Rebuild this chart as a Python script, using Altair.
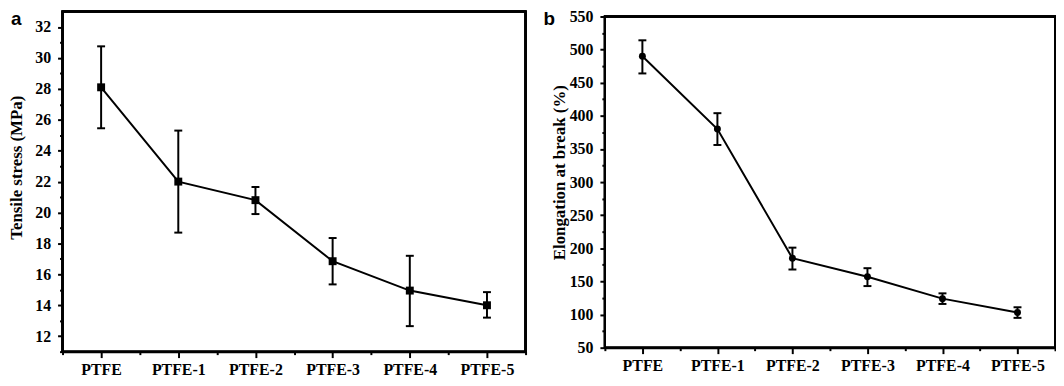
import json
import altair as alt
import pandas as pd

categories = ["PTFE", "PTFE-1", "PTFE-2", "PTFE-3", "PTFE-4", "PTFE-5"]
tensile_mean = [28.1, 22.0, 20.8, 16.85, 14.95, 14.0]
tensile_low = [25.45, 18.7, 19.9, 15.35, 12.65, 13.2]
tensile_high = [30.75, 25.3, 21.65, 18.35, 17.2, 14.85]
elong_mean = [490, 380, 185, 157, 124, 103]
elong_low = [464, 356, 168, 143, 116, 95]
elong_high = [514, 404, 201, 170, 132, 111]

tensile_ticks = list(range(11, 33))
tensile_frame = [11, 33]
elong_ticks = list(range(50, 551, 25))
elong_frame = [50, 550]

n = len(categories)
df = pd.DataFrame({
    "idx": list(range(n)),
    "cat": categories,
    "t": tensile_mean, "tlo": tensile_low, "thi": tensile_high,
    "e": elong_mean, "elo": elong_low, "ehi": elong_high,
})

SERIF = "Liberation Serif"
x_ticks = [i / 2 - 0.5 for i in range(2 * n + 1)]
cats_js = json.dumps(categories)

x_axis = alt.Axis(
    values=x_ticks, tickCount=len(x_ticks) + 5, title=None, grid=False,
    labelExpr=f"datum.value % 1 === 0 ? {cats_js}[datum.value] : ''",
    tickSize={"condition": {"test": "datum.value % 1 !== 0", "value": 3}, "value": 6},
    labelPadding=4, labelFontSize=16, labelOverlap=False, labelFlush=False, labelBound=False,
)
x_enc = alt.X("idx:Q", scale=alt.Scale(domain=[-0.5, n - 0.5], nice=False, zero=False), axis=x_axis)


def panel(col, lo, hi, domain, frame, ticks, major, title, shape, size, w, h, letter, lx, ly, tx, ty):
    y_axis = alt.Axis(
        values=ticks, tickCount=len(ticks) + 5, title=title, grid=False, domain=False,
        labelExpr=f"datum.value % {major} === 0 ? datum.label : ''",
        tickSize={"condition": {"test": f"datum.value % {major} !== 0", "value": 3}, "value": 5},
        labelPadding=7, labelFontSize=16, labelOverlap=False, labelFlush=False, labelBound=False,
        titleX=tx, titleY=ty, titleFontSize=17, titleAngle=-90,
    )
    y_scale = alt.Scale(domain=domain, nice=False, zero=False)
    base = alt.Chart(df)
    line = base.mark_line(color="black", strokeWidth=2).encode(
        x=x_enc, y=alt.Y(f"{col}:Q", scale=y_scale, axis=y_axis))
    box = base.mark_rect(fillOpacity=0, stroke="black", strokeWidth=2).encode(
        x=alt.datum(-0.5), x2=alt.datum(n - 0.5), y=alt.datum(frame[0]), y2=alt.datum(frame[1]))
    pts = base.mark_point(shape=shape, filled=True, color="black", size=size, opacity=1).encode(
        x="idx:Q", y=f"{col}:Q")
    bars = base.mark_rule(color="black", strokeWidth=2).encode(
        x="idx:Q", y=f"{lo}:Q", y2=f"{hi}:Q")
    cap_lo = base.mark_tick(orient="horizontal", color="black", size=8, thickness=2, opacity=1).encode(
        x="idx:Q", y=f"{lo}:Q")
    cap_hi = base.mark_tick(orient="horizontal", color="black", size=8, thickness=2, opacity=1).encode(
        x="idx:Q", y=f"{hi}:Q")
    lab = alt.Chart(pd.DataFrame({"t": [letter]})).mark_text(
        font="Liberation Sans", fontWeight="bold", fontSize=19, align="left", baseline="top",
        color="black").encode(text="t:N", x=alt.value(lx), y=alt.value(ly))
    return alt.layer(line, box, bars, cap_lo, cap_hi, pts, lab).properties(width=w, height=h)


a = panel("t", "tlo", "thi", [11, 33], tensile_frame, tensile_ticks, 2, "Tensile stress (MPa)",
          "square", 64, 467, 343, "a", -52, -1, -37, 157)
b = panel("e", "elo", "ehi", [50, 557.4], elong_frame, elong_ticks, 50, "Elongation at break (%)",
          "circle", 49, 454, 339, "b", -62, -1, -37, 162)

chart = alt.hconcat(a, b, spacing=17).properties(
    padding={"left": 0, "top": -2, "right": 0, "bottom": 0}
).configure_view(strokeWidth=0).configure_axis(
    domainColor="black", domainWidth=2, tickColor="black", tickWidth=2,
    labelFont=SERIF, labelFontWeight="bold", labelColor="black",
    titleFont=SERIF, titleFontWeight="bold", titleColor="black",
)

chart.save("out.html", embed_options={"renderer": "svg", "actions": False})
